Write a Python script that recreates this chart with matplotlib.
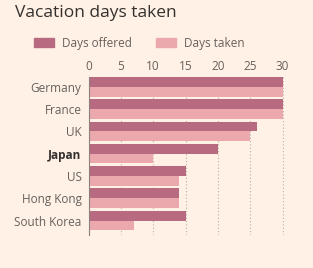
import numpy as np
import matplotlib
matplotlib.use('Agg')
import matplotlib.pyplot as plt
from matplotlib.patches import Patch

plt.rcParams['font.family'] = ['Open Sans', 'DejaVu Sans']

countries = ['Germany', 'France', 'UK', 'Japan', 'US', 'Hong Kong', 'South Korea']
days_offered = [30, 30, 26, 20, 15, 14, 15]
days_taken = [30, 30, 25, 10, 14, 14, 7]
xticks = [0, 5, 10, 15, 20, 25, 30]

bg = '#fff1e5'
c_off = '#b86a80'
c_take = '#eba9ad'

fig = plt.figure(figsize=(3.13, 2.68), dpi=100, facecolor=bg)
ax = fig.add_axes([88.5 / 313, 1 - 235 / 268, 195.3 / 313, 158 / 268])
ax.set_facecolor(bg)

y = np.arange(len(countries))
h = 0.44
ax.barh(y - h / 2, days_offered, height=h, color=c_off, zorder=3)
ax.barh(y + h / 2, days_taken, height=h, color=c_take, zorder=3)

ax.set_xlim(0, 30.2)
ax.set_ylim(6.65, -0.44)
ax.set_xticks(xticks)
ax.xaxis.tick_top()
ax.tick_params(axis='x', length=0, pad=3, labelsize=8.5, labelcolor='#66605c')
ax.tick_params(axis='y', length=0, pad=5, labelsize=8.5, labelcolor='#66605c')
ax.set_yticks(y)
ax.set_yticklabels(countries)
for lab in ax.get_yticklabels():
    if lab.get_text() == 'Japan':
        lab.set_fontweight('bold')
        lab.set_color('#33302e')

ax.grid(axis='x', linestyle=(0, (1, 2)), color='#b8aea5', linewidth=0.8, zorder=0)
ax.grid(axis='y', visible=False)
for s in ['top', 'right', 'bottom']:
    ax.spines[s].set_visible(False)
ax.spines['left'].set_color('#8a827c')
ax.spines['left'].set_linewidth(0.8)
ax.spines['left'].set_zorder(4)

fig.text(15 / 313, 1 - 13 / 268, 'Vacation days taken', fontsize=12.5,
         color='#33302e', va='center', ha='left')

handles = [Patch(color=c_off), Patch(color=c_take)]
fig.legend(handles, ['Days offered', 'Days taken'], loc='center left',
           bbox_to_anchor=(34 / 313, 1 - 43 / 268), ncol=2, frameon=False,
           fontsize=8.5, labelcolor='#66605c', handlelength=1.7, handleheight=0.75,
           handletextpad=0.7, columnspacing=2.0, borderpad=0, borderaxespad=0)

plt.savefig('out.png', dpi=100, facecolor=bg)
plt.close()
